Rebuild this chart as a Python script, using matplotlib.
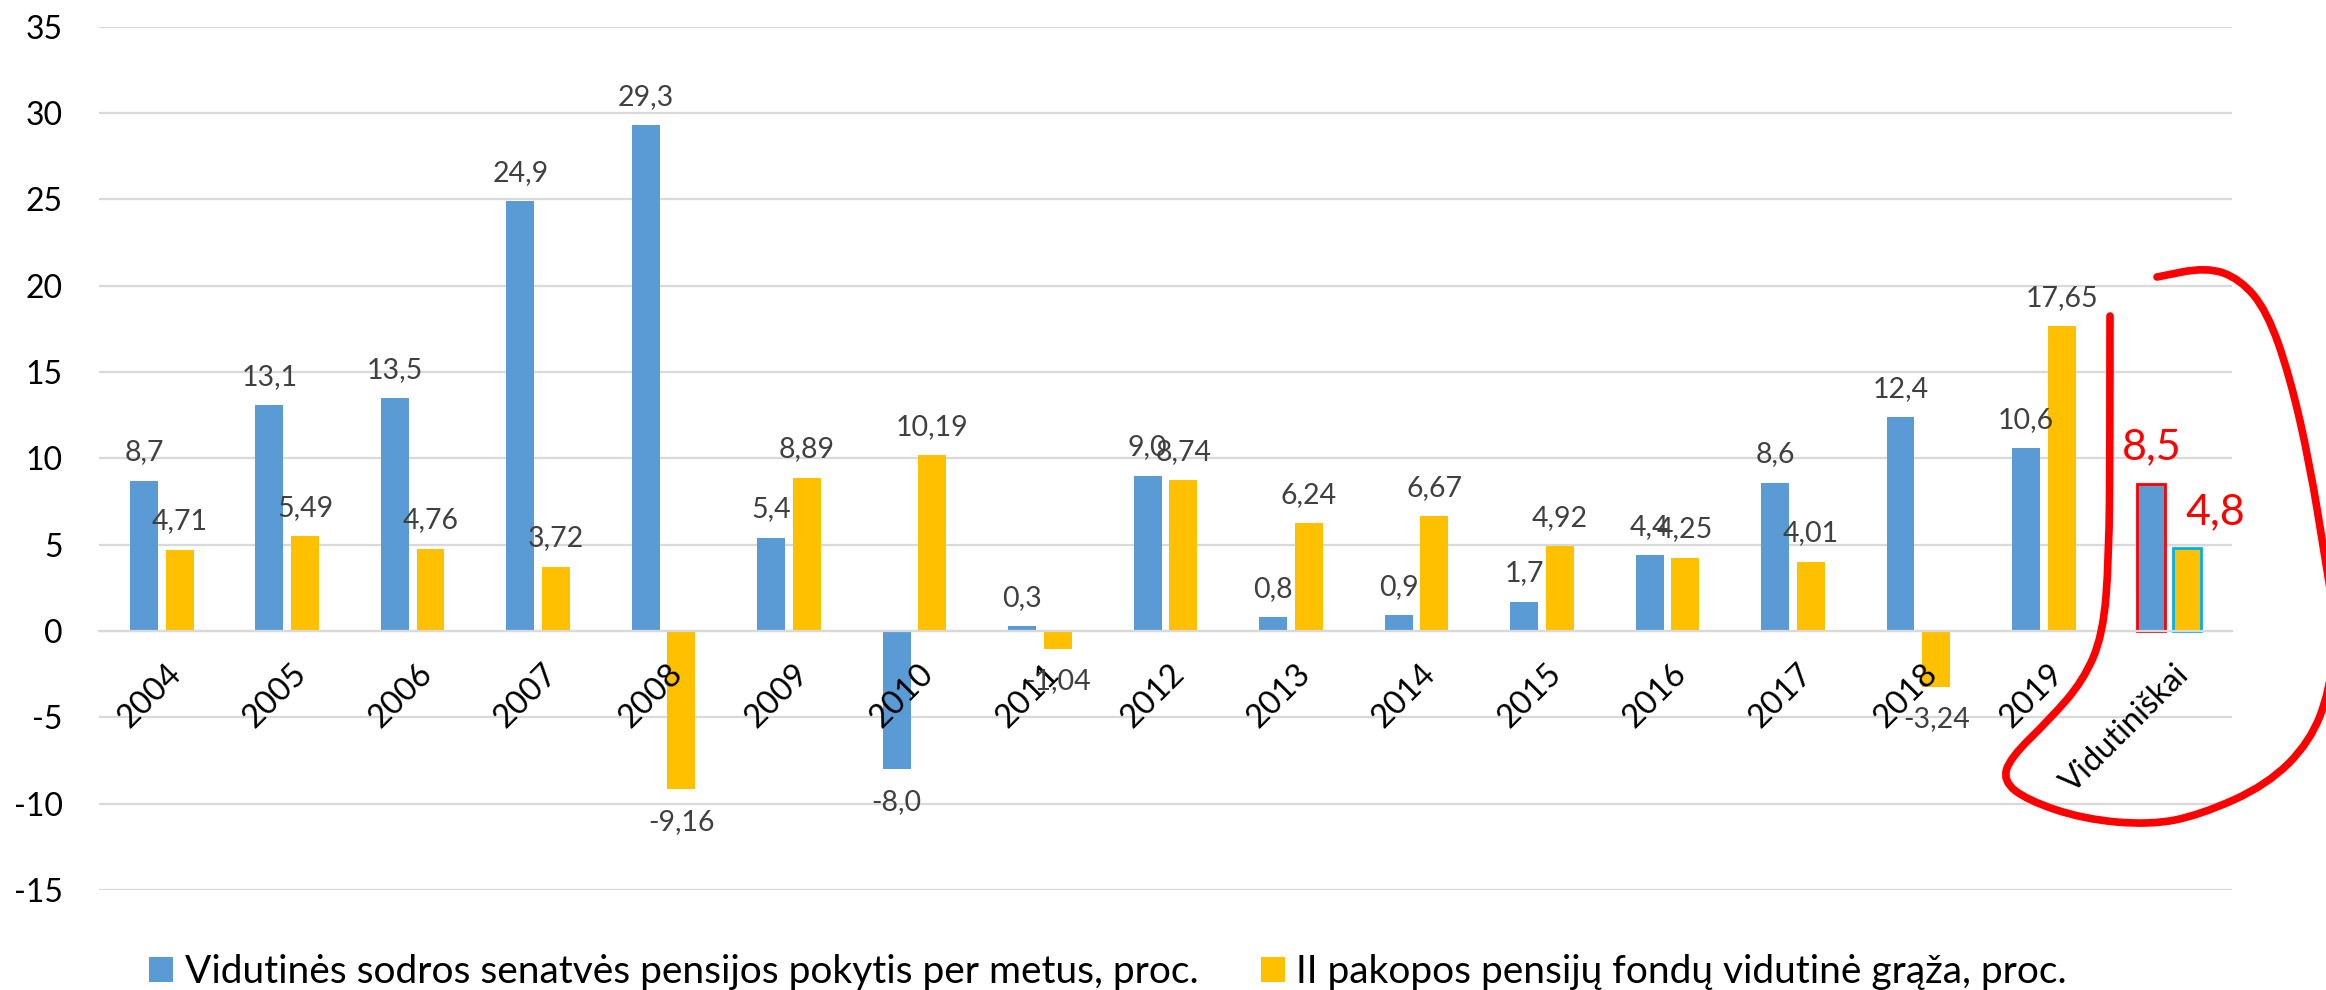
import matplotlib
matplotlib.use("Agg")
import matplotlib.pyplot as plt
import numpy as np
from matplotlib.path import Path
from matplotlib.patches import PathPatch, Patch
from matplotlib.transforms import Affine2D, ScaledTranslation

plt.rcParams['font.family'] = ['Lato', 'DejaVu Sans']
plt.rcParams['axes.unicode_minus'] = False

categories = ["2004", "2005", "2006", "2007", "2008", "2009", "2010", "2011", "2012",
              "2013", "2014", "2015", "2016", "2017", "2018", "2019", "Vidutiniškai"]
sodra = [8.7, 13.1, 13.5, 24.9, 29.3, 5.4, -8.0, 0.3, 9.0, 0.8, 0.9, 1.7, 4.4, 8.6, 12.4, 10.6, 8.5]
fondai = [4.71, 5.49, 4.76, 3.72, -9.16, 8.89, 10.19, -1.04, 8.74, 6.24, 6.67, 4.92, 4.25, 4.01, -3.24, 17.65, 4.8]
series_names = ["Vidutinės sodros senatvės pensijos pokytis per metus, proc.",
                "II pakopos pensijų fondų vidutinė grąža, proc."]
decimals = [1, 2]

BLUE = "#5B9BD5"
YELLOW = "#FFC000"
GRID = "#D9D9D9"

W, H = 2326, 990
fig = plt.figure(figsize=(W / 100, H / 100), dpi=100)
ax = fig.add_axes([99 / W, 100 / H, 2133 / W, 863.3 / H])

x = np.arange(len(categories))
bw = 0.223
off = 0.142
n = len(categories)

# last category (average) is outlined
lw = [0] * (n - 1) + [2]
ax.bar(x - off, sodra, bw, color=BLUE, edgecolor=[BLUE] * (n - 1) + ["#FF0000"], linewidth=lw, zorder=2)
ax.bar(x + off, fondai, bw, color=YELLOW, edgecolor=[YELLOW] * (n - 1) + ["#00B0F0"], linewidth=lw, zorder=2)

def fmt(v, d):
    return f"{v:.{d}f}".replace(".", ",")

for vals, dx, d in [(sodra, -off, decimals[0]), (fondai, off, decimals[1])]:
    for i, v in enumerate(vals):
        if i == n - 1:
            continue
        ax.annotate(fmt(v, d), (x[i] + dx, v), xytext=(0, 11 if v >= 0 else -14),
                    textcoords="offset points", ha="center",
                    va="bottom" if v >= 0 else "top", fontsize=20.5, color="#404040", zorder=4)

# average labels in red
ax.annotate(fmt(sodra[-1], 1), (x[-1] - off, sodra[-1]), xytext=(0, 13), textcoords="offset points",
            ha="center", va="bottom", fontsize=31, color="#FF0000")
ax.annotate(fmt(fondai[-1], 1), (x[-1] + off, fondai[-1]), xytext=(20, 12), textcoords="offset points",
            ha="center", va="bottom", fontsize=31, color="#FF0000")

ax.set_xlim(-0.5, n - 0.5)
ax.set_ylim(-15, 35)
ax.set_yticks(np.arange(-15, 36, 5))
ax.yaxis.grid(True, color=GRID, lw=1.6)
ax.set_axisbelow(True)
ax.xaxis.set_zorder(3)
for s in ["left", "right", "top"]:
    ax.spines[s].set_visible(False)
ax.spines["bottom"].set_position(("data", 0))
ax.spines["bottom"].set_color(GRID)
ax.spines["bottom"].set_linewidth(1.6)
ax.tick_params(axis="y", length=0, pad=26, labelsize=23, labelcolor="#000000")
ax.tick_params(axis="x", length=0, pad=20, labelsize=23.5, labelcolor="#000000")
ax.set_xticks(x)
ax.set_xticklabels(categories)
shift = ScaledTranslation(4 / 100, 0, fig.dpi_scale_trans)
for lab in ax.get_xticklabels():
    lab.set_rotation(45)
    lab.set_ha("right")
    lab.set_va("top")
    lab.set_rotation_mode("anchor")
    lab.set_transform(lab.get_transform() + shift)

handles = [Patch(facecolor=BLUE), Patch(facecolor=YELLOW)]
fig.legend(handles, series_names, loc="center left", bbox_to_anchor=(149 / W, 1 - 972 / H),
           ncol=2, frameon=False, fontsize=28, borderpad=0, borderaxespad=0,
           handlelength=0.62, handleheight=0.62, handletextpad=0.3, columnspacing=1.6)

# hand-drawn red loop around the average bars (figure pixel coordinates)
loop = [(2110, 316), (2110, 442), (2109, 558), (2103, 635), (2083, 681), (2050, 719), (2010, 758),
        (2003, 781), (2027, 800), (2083, 819), (2150, 825), (2200, 815), (2267, 785), (2310, 742),
        (2330, 690), (2336, 625), (2325, 558), (2310, 465), (2290, 377), (2267, 311), (2240, 279),
        (2207, 267), (2157, 277)]
verts = [loop[0]]
codes = [Path.MOVETO]
for i in range(1, len(loop) - 1):
    mid = ((loop[i][0] + loop[i + 1][0]) / 2, (loop[i][1] + loop[i + 1][1]) / 2)
    verts += [loop[i], mid]
    codes += [Path.CURVE3, Path.CURVE3]
verts.append(loop[-1])
codes.append(Path.LINETO)
px = Affine2D().scale(1 / W, -1 / H).translate(0, 1) + fig.transFigure
fig.add_artist(PathPatch(Path(verts, codes), transform=px, fill=False, edgecolor="#FF0000",
                         lw=5.5, capstyle="round", joinstyle="round", clip_on=False))

fig.savefig("out.png", dpi=100)
